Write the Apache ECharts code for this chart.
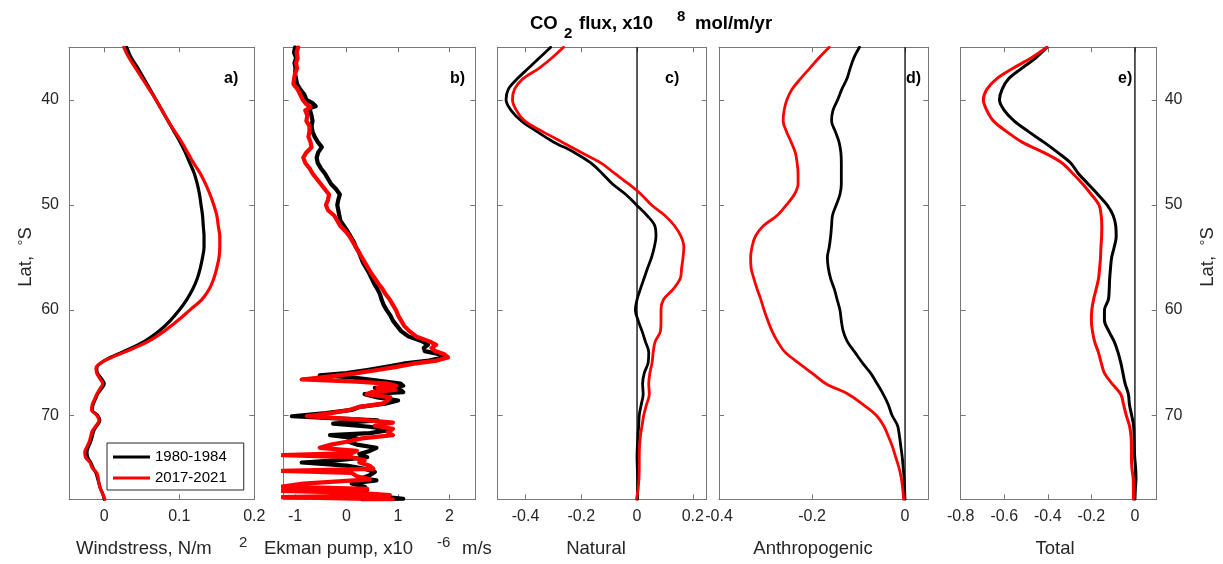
<!DOCTYPE html>
<html><head><meta charset="utf-8">
<script src="https://cdn.jsdelivr.net/npm/echarts@6/dist/echarts.min.js"></script>
<style>html,body{margin:0;padding:0;background:#fff}#c{width:1223px;height:564px}</style>
</head><body><div id="c"></div>
<script>
// ---------------- DATA ----------------
const seriesNames = ['1980-1984', '2017-2021'];
const latTicks = [40, 50, 60, 70];

// a) Windstress
const latWind = [35,36,37,38,39,40,41,42,43,44,45,46,47,48,49,50,51,52,53,54,55,56,57,58,59,60,61,62,63,64,64.5,65,65.5,66,66.5,67,67.5,68,68.5,69,69.5,70,70.5,71,71.5,72,72.5,73,73.5,74,74.5,75,75.5,76,76.5,77,77.5,78];
const windBlack = [0.030,0.036,0.045,0.053,0.061,0.069,0.077,0.085,0.093,0.101,0.108,0.114,0.120,0.124,0.127,0.129,0.131,0.132,0.133,0.133,0.131,0.128,0.124,0.118,0.110,0.100,0.088,0.073,0.053,0.024,0.008,-0.004,-0.010,-0.009,-0.004,0.000,-0.004,-0.009,-0.012,-0.015,-0.016,-0.009,-0.006,-0.010,-0.014,-0.016,-0.018,-0.021,-0.023,-0.022,-0.018,-0.015,-0.011,-0.009,-0.007,-0.005,-0.002,0.000];
const windRed = [0.026,0.033,0.042,0.051,0.060,0.069,0.077,0.085,0.094,0.103,0.111,0.119,0.128,0.135,0.141,0.146,0.150,0.152,0.154,0.154,0.153,0.150,0.146,0.140,0.130,0.114,0.098,0.080,0.058,0.027,0.010,-0.004,-0.011,-0.010,-0.006,-0.002,-0.006,-0.010,-0.013,-0.016,-0.017,-0.010,-0.007,-0.011,-0.016,-0.018,-0.020,-0.023,-0.026,-0.025,-0.019,-0.016,-0.010,-0.008,-0.007,-0.005,-0.002,0.001];
const ticksWind = [0, 0.1, 0.2];

// b) Ekman pumping
const latEkBlack = [35,35.5,36,36.5,37,37.5,38,38.5,39,39.5,40,40.3,40.6,40.8,41.5,42,42.5,43,43.5,44,44.5,45,45.5,46,46.5,47,47.5,48,48.5,49,49.5,50,50.5,51,51.5,52,52.5,53,53.5,54,54.5,55,55.5,56,56.5,57,57.5,58,58.5,59,59.5,60,60.5,61,61.5,62,62.5,63,63.3,63.6,63.9,64.2,64.5,64.8,65.1,65.4,65.7,66.0,66.2,66.4,66.7,67.0,67.2,67.4,67.6,67.8,68.0,68.3,68.6,68.9,69.2,69.5,69.8,70.1,70.3,70.5,70.8,71.1,71.4,71.7,71.9,72.2,72.5,72.8,73.1,73.4,73.7,74.0,74.3,74.5,74.8,75.1,75.4,75.7,76.0,76.2,76.5,76.8,77.1,77.4,77.7,77.95,78];
const ekBlack = [-1.00,-1.02,-0.98,-1.01,-0.99,-1.00,-0.98,-0.96,-0.90,-0.82,-0.78,-0.66,-0.60,-0.72,-0.68,-0.66,-0.68,-0.66,-0.62,-0.56,-0.48,-0.55,-0.58,-0.56,-0.50,-0.42,-0.36,-0.30,-0.20,-0.13,-0.16,-0.18,-0.16,-0.14,-0.12,-0.05,0.02,0.08,0.14,0.18,0.24,0.28,0.32,0.38,0.44,0.49,0.54,0.60,0.65,0.68,0.72,0.78,0.85,0.90,0.98,1.06,1.20,1.48,1.58,1.50,1.52,1.80,1.90,1.60,1.10,0.77,0.40,0.00,-0.52,0.10,0.60,1.05,1.10,0.55,1.05,1.10,0.35,0.60,1.00,0.75,0.26,0.10,-0.40,-1.06,-0.20,0.60,-0.26,0.45,0.85,0.45,-0.32,0.20,0.03,0.20,0.58,0.45,0.25,0.40,-0.20,-0.87,0.00,0.35,0.55,0.45,0.30,0.58,0.10,0.35,0.40,-0.30,0.60,1.10,0.30];
const latEkRed = [35,35.5,36,36.5,37,37.5,38,38.5,39,39.5,40,40.4,40.7,41,41.5,42,42.5,43,43.5,44,44.5,45,45.5,46,46.5,47,47.5,48,48.5,49,49.5,50,50.5,51,51.5,52,52.5,53,53.5,54,54.5,55,55.5,56,56.5,57,57.5,58,58.5,59,59.5,60,60.5,61,61.5,62,62.5,63,63.3,63.6,63.9,64.2,64.5,64.8,65.1,65.4,65.7,66.0,66.3,66.6,66.8,67.0,67.2,67.4,67.6,67.8,68.0,68.3,68.6,68.9,69.2,69.5,69.8,70.1,70.4,70.7,71.0,71.3,71.6,71.9,72.2,72.5,72.8,73.1,73.4,73.6,73.8,74.0,74.3,74.5,74.8,75.1,75.3,75.5,75.8,76.1,76.5,76.8,77.0,77.2,77.4,77.6,77.8,78];
const ekRed = [-0.94,-0.97,-0.95,-0.98,-0.96,-1.00,-1.02,-1.03,-0.95,-0.90,-0.85,-0.78,-0.70,-0.80,-0.76,-0.78,-0.72,-0.72,-0.74,-0.70,-0.68,-0.78,-0.84,-0.80,-0.72,-0.66,-0.58,-0.50,-0.42,-0.34,-0.36,-0.40,-0.36,-0.24,-0.18,-0.12,-0.02,0.06,0.12,0.18,0.24,0.30,0.36,0.42,0.48,0.55,0.62,0.70,0.76,0.84,0.90,0.96,1.00,1.06,1.12,1.22,1.35,1.62,1.74,1.65,1.72,1.90,1.97,1.75,1.30,0.97,0.60,0.20,-0.30,-0.87,0.20,0.80,0.97,0.60,0.95,0.50,0.39,0.85,0.80,0.70,0.26,0.05,-0.30,-0.77,0.20,0.90,0.55,0.90,0.80,0.90,0.30,0.03,-0.30,-0.52,0.20,0.10,-1.25,0.10,0.35,0.25,0.45,0.52,-1.25,0.10,0.20,0.45,-0.84,-1.25,0.40,-1.25,0.30,0.84,-1.25,0.90];
const ticksEk = [-1, 0, 1, 2];

// c, d, e) CO2 flux
const latFlux = [35,36,37,38,39,40,41,42,43,44,45,46,47,48,49,50,51,52,53,54,55,56,57,58,59,60,61,62,63,64,65,66,67,68,69,70,71,72,73,74,75,76,77,78];
const natBlack = [-0.310,-0.350,-0.390,-0.430,-0.462,-0.470,-0.452,-0.415,-0.360,-0.300,-0.225,-0.166,-0.125,-0.088,-0.040,-0.002,0.036,0.064,0.068,0.062,0.052,0.038,0.025,0.012,0.000,-0.006,0.004,0.018,0.030,0.042,0.040,0.026,0.020,0.022,0.015,0.008,0.006,0.003,0.001,0.000,0.001,0.002,0.002,0.002];
const natRed = [-0.264,-0.305,-0.352,-0.410,-0.440,-0.447,-0.433,-0.403,-0.340,-0.270,-0.200,-0.130,-0.080,-0.030,0.015,0.052,0.100,0.135,0.158,0.168,0.165,0.160,0.155,0.130,0.095,0.086,0.086,0.084,0.065,0.058,0.054,0.046,0.042,0.044,0.034,0.024,0.018,0.012,0.009,0.008,0.008,0.007,0.004,-0.002];
const antBlack = [-0.098,-0.110,-0.118,-0.125,-0.136,-0.145,-0.155,-0.158,-0.150,-0.142,-0.138,-0.137,-0.137,-0.137,-0.140,-0.148,-0.156,-0.158,-0.160,-0.163,-0.167,-0.165,-0.160,-0.152,-0.146,-0.140,-0.137,-0.133,-0.124,-0.108,-0.092,-0.074,-0.060,-0.047,-0.036,-0.028,-0.016,-0.012,-0.009,-0.006,-0.004,-0.002,-0.001,0.000];
const antRed = [-0.163,-0.185,-0.205,-0.225,-0.243,-0.254,-0.260,-0.262,-0.255,-0.245,-0.236,-0.232,-0.230,-0.230,-0.238,-0.255,-0.275,-0.305,-0.322,-0.329,-0.332,-0.331,-0.325,-0.318,-0.310,-0.303,-0.295,-0.286,-0.274,-0.258,-0.230,-0.200,-0.170,-0.122,-0.090,-0.062,-0.046,-0.036,-0.027,-0.020,-0.013,-0.008,-0.005,-0.003];
const totBlack = [-0.404,-0.455,-0.520,-0.580,-0.610,-0.622,-0.600,-0.555,-0.490,-0.420,-0.355,-0.295,-0.260,-0.215,-0.170,-0.128,-0.100,-0.088,-0.086,-0.095,-0.107,-0.112,-0.116,-0.118,-0.122,-0.140,-0.140,-0.120,-0.095,-0.078,-0.065,-0.055,-0.045,-0.030,-0.025,-0.015,-0.006,-0.004,-0.003,-0.001,0.003,0.005,0.002,0.000];
const totRed = [-0.404,-0.475,-0.560,-0.635,-0.680,-0.696,-0.680,-0.650,-0.590,-0.520,-0.420,-0.335,-0.285,-0.240,-0.200,-0.165,-0.155,-0.152,-0.153,-0.156,-0.158,-0.162,-0.167,-0.178,-0.190,-0.198,-0.200,-0.195,-0.185,-0.168,-0.155,-0.140,-0.105,-0.065,-0.052,-0.040,-0.025,-0.018,-0.016,-0.016,-0.014,-0.008,-0.007,-0.007];
const ticksNat = [-0.4, -0.2, 0, 0.2];
const ticksAnt = [-0.4, -0.2, 0];
const ticksTot = [-0.8, -0.6, -0.4, -0.2, 0];
const zeroLine = [0, 0];
const zeroLat = [35, 78];

// ---------------- LAYOUT ----------------
const FONT = '"Liberation Sans", Arial, Helvetica, sans-serif';
const AX = '#777';
const TXT = '#262626';
const panels = [
  {left: 69,    width: 185.3, min: -0.047, max: 0.2,  ticks: ticksWind, lat: [latWind, latWind], val: [windBlack, windRed], zero: false, lw: 3.2, label: 'a)', lx: 224},
  {left: 283.7, width: 191.6, min: -1.22,  max: 2.5,  ticks: ticksEk,   lat: [latEkBlack, latEkRed], val: [ekBlack, ekRed], zero: false, lw: 4.2, label: 'b)', lx: 450},
  {left: 497.7, width: 209,   min: -0.5,   max: 0.25, ticks: ticksNat,  lat: [latFlux, latFlux], val: [natBlack, natRed], zero: true, lw: 2.8, label: 'c)', lx: 665},
  {left: 719,   width: 209.3, min: -0.4,   max: 0.05, ticks: ticksAnt,  lat: [latFlux, latFlux], val: [antBlack, antRed], zero: true, lw: 2.8, label: 'd)', lx: 906},
  {left: 960.7, width: 196,   min: -0.8,   max: 0.1,  ticks: ticksTot,  lat: [latFlux, latFlux], val: [totBlack, totRed], zero: true, lw: 3.0, label: 'e)', lx: 1118}
];
const colors = ['#000000', '#ff0000'];

const grid = [], xAxis = [], yAxis = [], series = [], graphic = [];
const fmt = v => String(+(+v).toFixed(3));
panels.forEach((p, i) => {
  grid.push({left: p.left, top: 47.3, width: p.width, height: 452, containLabel: false});
  const common = {type: 'value', gridIndex: i, min: p.min, max: p.max, splitLine: {show: false},
    axisLine: {show: true, onZero: false, lineStyle: {color: AX, width: 1}}};
  xAxis.push(Object.assign({}, common, {position: 'bottom',
    axisTick: {show: true, inside: true, length: 5, customValues: p.ticks, lineStyle: {color: AX}},
    axisLabel: {show: true, customValues: p.ticks, formatter: fmt, fontSize: 16, color: TXT, fontFamily: FONT, margin: 9, showMinLabel: true, showMaxLabel: true, hideOverlap: false}}));
  xAxis.push(Object.assign({}, common, {position: 'top',
    axisTick: {show: true, inside: true, length: 5, customValues: p.ticks, lineStyle: {color: AX}},
    axisLabel: {show: false}}));
  const ycommon = {type: 'value', gridIndex: i, min: 35, max: 78, inverse: true, splitLine: {show: false},
    axisLine: {show: true, onZero: false, lineStyle: {color: AX, width: 1}},
    axisTick: {show: true, inside: true, length: 5, customValues: latTicks, lineStyle: {color: AX}}};
  yAxis.push(Object.assign({}, ycommon, {position: 'left',
    axisLabel: {show: i === 0, customValues: latTicks, fontSize: 16, color: TXT, fontFamily: FONT, margin: 10}}));
  yAxis.push(Object.assign({}, ycommon, {position: 'right',
    axisLabel: {show: i === 4, customValues: latTicks, fontSize: 16, color: TXT, fontFamily: FONT, margin: 8}}));
  if (p.zero) {
    series.push({type: 'line', name: 'zero', xAxisIndex: 2 * i, yAxisIndex: 2 * i, showSymbol: false, silent: true,
      data: zeroLine.map((v, k) => [v, zeroLat[k]]), lineStyle: {color: '#000', width: 1.3}, z: 1});
  }
  [0, 1].forEach(s => {
    series.push({type: 'line', name: seriesNames[s], xAxisIndex: 2 * i, yAxisIndex: 2 * i,
      showSymbol: false, symbol: 'none', smooth: i === 1 ? false : 0.35, clip: true,
      data: p.val[s].map((v, k) => [v, p.lat[s][k]]),
      lineStyle: {color: colors[s], width: p.lw, join: 'round', cap: 'round'}, itemStyle: {color: colors[s]}, z: 2 + s});
  });
  graphic.push({type: 'text', left: p.lx, top: 71, style: {text: p.label, font: 'bold 16px ' + FONT, fill: '#000'}});
});

// titles
const tBold = 'bold 18.5px ' + FONT, tSmall = 'bold 15px ' + FONT;
graphic.push(
  {type: 'text', left: 530, top: 14, style: {text: 'CO', font: tBold, fill: '#000'}},
  {type: 'text', left: 564, top: 26, style: {text: '2', font: tSmall, fill: '#000'}},
  {type: 'text', left: 579, top: 14, style: {text: 'flux, x10', font: tBold, fill: '#000'}},
  {type: 'text', left: 677, top: 9, style: {text: '8', font: tSmall, fill: '#000'}},
  {type: 'text', left: 695, top: 14, style: {text: 'mol/m/yr', font: tBold, fill: '#000'}}
);
const aFont = '18.5px ' + FONT, sFont = '15px ' + FONT;
graphic.push(
  {type: 'text', left: 76, top: 539, style: {text: 'Windstress, N/m', font: aFont, fill: TXT}},
  {type: 'text', left: 239, top: 535, style: {text: '2', font: sFont, fill: TXT}},
  {type: 'text', left: 264, top: 539, style: {text: 'Ekman pump, x10', font: aFont, fill: TXT}},
  {type: 'text', left: 437, top: 535, style: {text: '-6', font: sFont, fill: TXT}},
  {type: 'text', left: 462, top: 539, style: {text: 'm/s', font: aFont, fill: TXT}},
  {type: 'text', x: 596, y: 549, style: {text: 'Natural', font: aFont, fill: TXT, align: 'center', verticalAlign: 'middle'}},
  {type: 'text', x: 813, y: 549, style: {text: 'Anthropogenic', font: aFont, fill: TXT, align: 'center', verticalAlign: 'middle'}},
  {type: 'text', x: 1055, y: 549, style: {text: 'Total', font: aFont, fill: TXT, align: 'center', verticalAlign: 'middle'}},
  {type: 'text', x: 26, y: 257, rotation: Math.PI / 2, style: {text: 'Lat,  {s|°}S', font: aFont, fill: TXT, align: 'center', verticalAlign: 'middle', rich: {s: {font: sFont, fill: TXT, verticalAlign: 'top'}}}},
  {type: 'text', x: 1208, y: 257, rotation: Math.PI / 2, style: {text: 'Lat,  {s|°}S', font: aFont, fill: TXT, align: 'center', verticalAlign: 'middle', rich: {s: {font: sFont, fill: TXT, verticalAlign: 'top'}}}}
);

const chart = echarts.init(document.getElementById('c'), null, {renderer: 'canvas'});
chart.setOption({
  animation: false,
  backgroundColor: '#fff',
  grid, xAxis, yAxis, series, graphic,
  legend: {data: seriesNames, orient: 'vertical', left: 107, top: 443, icon: 'rect', itemWidth: 37, itemHeight: 3,
    itemGap: 3, padding: [5, 17, 3, 6], borderColor: '#262626', borderWidth: 1, backgroundColor: '#fff', borderRadius: 0,
    textStyle: {fontSize: 15, color: '#000', fontFamily: FONT, lineHeight: 18}, selectedMode: false}
});
</script></body></html>
